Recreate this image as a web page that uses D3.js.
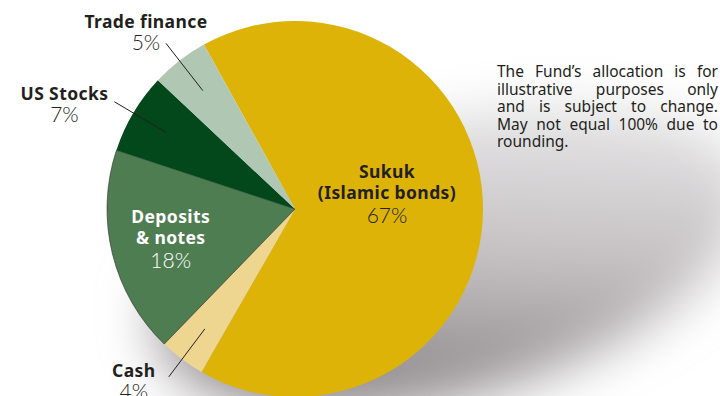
<html>
<head>
<script src="https://cdn.jsdelivr.net/npm/d3@7"></script>
<style>
  body { margin: 0; background: #fff; }
  text { font-family: "Noto Sans", sans-serif; fill: #231f20; }
  .pct { font-family: Lato, sans-serif; font-weight: 300; font-size: 21px; }
  .lbl { font-weight: 700; font-size: 17.5px; letter-spacing: 0.4px; }
  .note { font-size: 15.5px; }
</style>
</head>
<body>
<svg id="chart" width="720" height="396"></svg>
<script>
    // allocation, clockwise from the top right
    let categories = ["Sukuk", "Cash", "Deposits & notes", "US Stocks", "Trade finance"]
    let values = [67, 4, 18, 7, 5]
    let colors = ["#ddb307", "#eed690", "#4f7d52", "#02481a", "#b0c7b3"]
    let labelLines = [["Sukuk", "(Islamic bonds)"], ["Cash"], ["Deposits", "& notes"], ["US Stocks"], ["Trade finance"]]
    let note = ["The Fund\u2019s allocation is for", "illustrative purposes only",
        "and is subject to change.", "May not equal 100% due to", "rounding."]

    let svg = d3.select("#chart")
    let cx = 295, cy = 209, r = 188

    // soft shadow behind the pie
    let defs = svg.append("defs")
    defs.append("filter").attr("id", "blur")
        .attr("x", "-50%").attr("y", "-50%").attr("width", "200%").attr("height", "200%")
        .append("feGaussianBlur").attr("stdDeviation", 26)
    let grad = defs.append("linearGradient").attr("id", "shade")
        .attr("x1", "0.15").attr("y1", "1").attr("x2", "0.85").attr("y2", "0")
    grad.append("stop").attr("offset", "0").attr("stop-color", "#756f70")
    grad.append("stop").attr("offset", "0.5").attr("stop-color", "#c4c0c2")
    grad.append("stop").attr("offset", "1").attr("stop-color", "#efeff0")

    svg.append("ellipse")
        .attr("cx", 450).attr("cy", 258).attr("rx", 305).attr("ry", 138)
        .attr("transform", "rotate(-15, 450, 258)")
        .attr("fill", "url(#shade)")
        .attr("filter", "url(#blur)")

    let start = -29 * Math.PI / 180
    let pie = d3.pie().sort(null).value(d => d.value)
        .startAngle(start).endAngle(start + 2 * Math.PI)
    let arcs = pie(categories.map((c, i) => ({ name: c, value: values[i], color: colors[i], lines: labelLines[i] })))

    let arc = d3.arc().innerRadius(0).outerRadius(r)
    let g = svg.append("g").attr("transform", `translate(${cx},${cy})`)

    g.selectAll("path").data(arcs).enter().append("path")
        .attr("d", arc)
        .attr("fill", d => d.data.color)
        .attr("stroke", d => d.data.name == "Deposits & notes" ? "#2b2b2b" : "none")
        .attr("stroke-width", 0.6)

    // inside labels: radius along the mid angle, and vertical shift of the block
    let inner = { "Sukuk": [92, -32], "Deposits & notes": [128, -17] }
    arcs.filter(d => inner[d.data.name]).forEach(d => {
        let [rr, dy] = inner[d.data.name]
        let c = d3.arc().innerRadius(rr).outerRadius(rr).centroid(d)
        let fill = d.data.name == "Sukuk" ? "#231f20" : "#fff"
        let t = g.append("text").attr("text-anchor", "middle")
            .attr("x", c[0]).attr("y", c[1] + dy)
        d.data.lines.forEach((l, i) => {
            t.append("tspan").attr("class", "lbl").attr("x", c[0]).attr("dy", i == 0 ? 0 : 21.5)
                .style("fill", fill).text(l)
        })
        t.append("tspan").attr("class", "pct").attr("x", c[0]).attr("dy", 23.5)
            .style("fill", fill).text(d.data.value + "%")
    })

    // outside labels with leader lines
    let outside = { "Trade finance": [-20, -15], "US Stocks": [-50, -2], "Cash": [-35, 0] }
    let lineIn = d3.arc().innerRadius(150).outerRadius(150)
    let lineOut = d3.arc().innerRadius(210).outerRadius(210)
    arcs.filter(d => outside[d.data.name]).forEach(d => {
        let a = lineIn.centroid(d), b = lineOut.centroid(d)
        g.append("line").attr("x1", a[0]).attr("y1", a[1]).attr("x2", b[0]).attr("y2", b[1])
            .attr("stroke", "#231f20").attr("stroke-width", 1)
        let off = outside[d.data.name]
        let x = b[0] + off[0], y = b[1] + off[1]
        g.append("text").attr("class", "lbl").attr("text-anchor", "middle").attr("x", x).attr("y", y)
            .text(d.data.lines[0])
        g.append("text").attr("class", "pct").attr("text-anchor", "middle").attr("x", x).attr("y", y + 22)
            .text(d.data.value + "%")
    })

    // disclaimer, justified by widening the word gaps
    let boxW = 221
    let nt = svg.append("g")
    note.forEach((l, i) => {
        let t = nt.append("text").attr("class", "note").attr("x", 497).attr("y", 77 + i * 17.5).text(l)
        if (i < note.length - 1) {
            let w = t.node().getComputedTextLength()
            let gaps = l.split(" ").length - 1
            t.style("word-spacing", Math.max(0, (boxW - w) / gaps) + "px")
        }
    })
</script>
</body>
</html>
